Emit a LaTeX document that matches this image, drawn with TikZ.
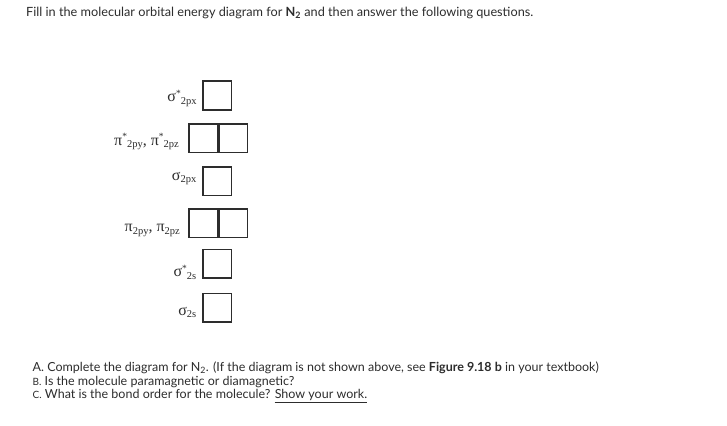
\documentclass[tikz,border=0pt]{standalone}
\usepackage{fontspec}
\setmainfont{Lato}
\newfontfamily\orbfont{Liberation Serif}
\usetikzlibrary{positioning}
\definecolor{inkgray}{RGB}{45,45,45}
\newcommand{\orbsub}[1]{\raisebox{-2.8pt}{\fontsize{10.5}{11}\selectfont #1}}
\newcommand{\orbstar}{\raisebox{5.5pt}{\fontsize{9.5}{10}\selectfont *}}

\begin{document}
\begin{tikzpicture}[x=1pt,y=-1pt,
  orb/.style={draw=inkgray,line width=1.5pt,minimum width=28.5pt,minimum height=28.5pt,inner sep=0pt},
  orblabel/.style={anchor=base east,inner sep=0pt,font=\orbfont\fontsize{16}{17}\selectfont,text=inkgray},
  textline/.style={anchor=base west,inner sep=0pt,font=\fontsize{12.5}{14}\selectfont,text=inkgray}]
\useasboundingbox[fill=white] (0,0) rectangle (727,425);

% heading
\node[textline,font=\fontsize{12.7}{14}\selectfont] (head) at (26,16.5) {Fill in the molecular orbital energy diagram for \textbf{N\textsubscript{2}} and then answer the following questions.};

% orbital boxes
\node[orb] (sxs) at (217.2,95.5) {};
\node[orb] (pys) at (203,138.3) {};
\node[orb,right=0pt of pys] (pzs) {};
\node[orb] (sx) at (217.2,181.2) {};
\node[orb] (py) at (203,223) {};
\node[orb,right=0pt of py] (pz) {};
\node[orb] (sss) at (217.2,263.5) {};
\node[orb] (ss) at (217.2,307.5) {};

% labels
\node[orblabel] (lsxs) at (196.7,101.5) {σ\orbstar\orbsub{2px}};
\node[orblabel] (lps) at (179,145) {π\orbstar\orbsub{2py}, π\orbstar\orbsub{2pz}};
\node[orblabel] (lsx) at (196.5,180) {σ\orbsub{2px}};
\node[orblabel] (lp) at (180,231.5) {π\orbsub{2py}, π\orbsub{2pz}};
\node[orblabel] (lsss) at (196.5,276.5) {σ\orbstar\orbsub{2s}};
\node[orblabel] (lss) at (196.5,315) {σ\orbsub{2s}};

% questions
\node[textline] (qa) at (32.5,371.5) {A. Complete the diagram for N\textsubscript{2}. (If the diagram is not shown above, see \textbf{Figure 9.18 b} in your textbook)};
\node[textline] (qb) at (32.5,385) {{\fontsize{10}{12}\selectfont B.} Is the molecule paramagnetic or diamagnetic?};
\node[textline] (qc) at (32.5,398.5) {{\fontsize{10}{12}\selectfont C.} What is the bond order for the molecule? \underline{Show your work.}};
\end{tikzpicture}
\end{document}
